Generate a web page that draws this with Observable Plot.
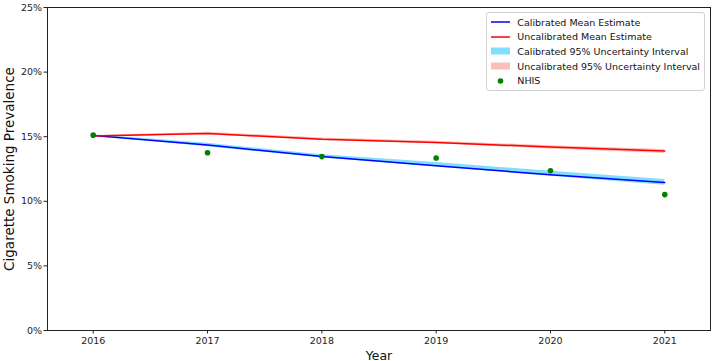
<!DOCTYPE html>
<html>
<head>
<meta charset="utf-8">
<script src="https://cdn.jsdelivr.net/npm/d3@7"></script>
<script src="https://cdn.jsdelivr.net/npm/@observablehq/plot@0.6"></script>
<style>
  html, body { margin: 0; padding: 0; background: #fff; }
  #wrap { position: relative; width: 716px; height: 361px; font-family: "DejaVu Sans", sans-serif; }
  #legend { position: absolute; right: 11px; top: 12px; background: rgba(255,255,255,0.8);
    border: 1px solid #d0d0d0; border-radius: 3px; padding: 2px 4px 2px 4px; font-size: 9.5px; color: #111; }
  .row { display: flex; align-items: center; height: 14.6px; white-space: nowrap; }
  .row svg { margin-right: 7px; flex: none; }
</style>
</head>
<body>
<div id="wrap"></div>
<script>
const years = [2016, 2017, 2018, 2019, 2020, 2021];
const calMean = [0.1510, 0.1435, 0.1347, 0.1276, 0.1205, 0.1146];
const calLow  = [0.1505, 0.1423, 0.1336, 0.1265, 0.1193, 0.1125];
const calHigh = [0.1515, 0.1450, 0.1360, 0.1300, 0.1232, 0.1168];
const uncMean = [0.1505, 0.1525, 0.1480, 0.1455, 0.1420, 0.1390];
const uncLow  = [0.1500, 0.1515, 0.1470, 0.1445, 0.1405, 0.1370];
const uncHigh = [0.1510, 0.1535, 0.1490, 0.1465, 0.1430, 0.1400];
const nhis    = [0.1512, 0.1376, 0.1346, 0.1335, 0.1236, 0.1052];
const xTicks = [2016, 2017, 2018, 2019, 2020, 2021];
const yTicks = [0, 0.05, 0.10, 0.15, 0.20, 0.25];

const legendItems = [
  {label: "Calibrated Mean Estimate", kind: "line", color: "#0000ff"},
  {label: "Uncalibrated Mean Estimate", kind: "line", color: "#ff0000"},
  {label: "Calibrated 95% Uncertainty Interval", kind: "band", color: "#80dfff"},
  {label: "Uncalibrated 95% Uncertainty Interval", kind: "band", color: "#fcbfb8"},
  {label: "NHIS", kind: "dot", color: "#008000"}
];

const rows = years.map((y, i) => ({
  year: y, calMean: calMean[i], calLow: calLow[i], calHigh: calHigh[i],
  uncMean: uncMean[i], uncLow: uncLow[i], uncHigh: uncHigh[i], nhis: nhis[i]
}));

const chart = Plot.plot({
  width: 716,
  height: 361,
  marginLeft: 47,
  marginRight: 6,
  marginTop: 7,
  marginBottom: 31,
  style: {fontFamily: "DejaVu Sans, sans-serif", fontSize: "9.5px", color: "#222", background: "#fff"},
  x: {domain: [2015.6, 2021.4], label: null},
  y: {domain: [0, 0.25], label: null},
  marks: [
    Plot.areaY(rows, {x: "year", y1: "uncLow", y2: "uncHigh", fill: "#fcbfb8"}),
    Plot.areaY(rows, {x: "year", y1: "calLow", y2: "calHigh", fill: "#80dfff"}),
    Plot.lineY(rows, {x: "year", y: "calMean", stroke: "#0000ff", strokeWidth: 1.5}),
    Plot.lineY(rows, {x: "year", y: "uncMean", stroke: "#ff0000", strokeWidth: 1.5}),
    Plot.dot(rows, {x: "year", y: "nhis", r: 2.8, fill: "#008000", stroke: "none"}),
    Plot.frame({stroke: "#222", strokeWidth: 1}),
    Plot.axisX({ticks: xTicks, tickFormat: d3.format("d"), tickSize: 3.5, tickPadding: 3, label: null}),
    Plot.axisY({ticks: yTicks, tickFormat: d3.format(".0%"), tickSize: 3.5, tickPadding: 2, label: null}),
    Plot.text(["Year"], {frameAnchor: "bottom", dy: 29, fontSize: 12.5, fill: "#111", lineAnchor: "bottom"}),
    Plot.text(["Cigarette Smoking Prevalence"], {frameAnchor: "left", dx: -38, rotate: -90, fontSize: 13.5, fill: "#111", textAnchor: "middle", lineAnchor: "middle"})
  ]
});

const wrap = document.getElementById("wrap");
wrap.appendChild(chart);

const leg = document.createElement("div");
leg.id = "legend";
for (const it of legendItems) {
  const r = document.createElement("div");
  r.className = "row";
  let sw;
  if (it.kind === "line") sw = `<svg width="19" height="10"><line x1="0" y1="5" x2="19" y2="5" stroke="${it.color}" stroke-width="1.5"/></svg>`;
  else if (it.kind === "band") sw = `<svg width="19" height="10"><rect x="0" y="1.5" width="19" height="7" fill="${it.color}"/></svg>`;
  else sw = `<svg width="19" height="10"><circle cx="9.5" cy="5" r="2.8" fill="${it.color}"/></svg>`;
  r.innerHTML = sw + `<span>${it.label}</span>`;
  leg.appendChild(r);
}
wrap.appendChild(leg);
</script>
</body>
</html>
